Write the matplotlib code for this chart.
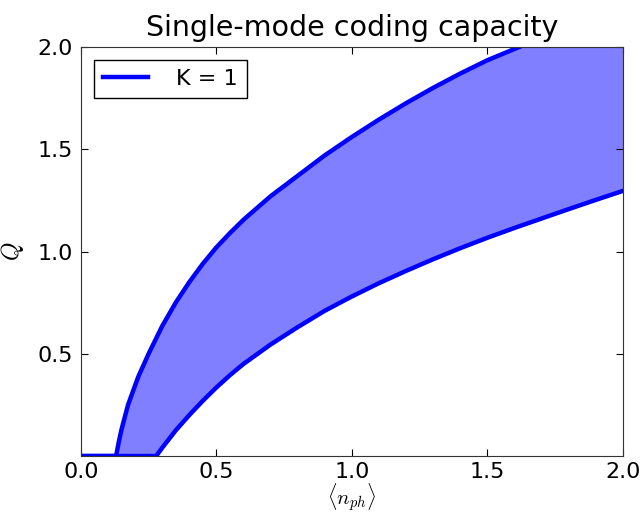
import numpy as np
import matplotlib
matplotlib.use("Agg")
import matplotlib.pyplot as plt

# values (upper and lower edge of the band)
n_upper = [0.0, 0.13, 0.14, 0.15, 0.174, 0.211, 0.25, 0.30, 0.35, 0.40, 0.45,
           0.50, 0.55, 0.60, 0.70, 0.80, 0.90, 1.0, 1.1, 1.2, 1.3, 1.4, 1.5,
           1.6, 1.7, 2.0]
q_upper = [0.0, 0.0, 0.07, 0.13, 0.25, 0.385, 0.50, 0.635, 0.75, 0.85, 0.94,
           1.02, 1.09, 1.155, 1.27, 1.37, 1.47, 1.56, 1.645, 1.725, 1.80, 1.87,
           1.935, 1.99, 2.045, 2.20]

n_lower = [0.0, 0.278, 0.30, 0.35, 0.40, 0.45, 0.50, 0.55, 0.60, 0.70, 0.80,
           0.90, 1.0, 1.1, 1.2, 1.3, 1.4, 1.5, 1.6, 1.7, 1.8, 1.9, 2.0]
q_lower = [0.0, 0.0, 0.04, 0.125, 0.20, 0.27, 0.335, 0.395, 0.45, 0.545, 0.63,
           0.71, 0.78, 0.845, 0.905, 0.962, 1.016, 1.067, 1.115, 1.161, 1.207,
           1.252, 1.296]

xticks = [0.0, 0.5, 1.0, 1.5, 2.0]
yticks = [0.5, 1.0, 1.5, 2.0]

plt.rcParams['mathtext.fontset'] = 'cm'
plt.rcParams['font.family'] = 'DejaVu Sans'

fig = plt.figure(figsize=(6.42, 5.14), dpi=100)
ax = fig.add_axes([0.126, 0.1128, 0.844, 0.7958])

# common grid so the band can be filled between both edges
grid = np.union1d(n_upper, n_lower)
up = np.interp(grid, n_upper, q_upper)
lo = np.interp(grid, n_lower, q_lower)
ax.fill_between(grid, lo, up, color='#0000ff', alpha=0.5, linewidth=0)

ax.plot(n_upper, q_upper, color='#0000ff', lw=3.2, label='K = 1',
        solid_joinstyle='round')
ax.plot(n_lower, q_lower, color='#0000ff', lw=3.2, solid_joinstyle='round')

ax.set_xlim(0, 2)
ax.set_ylim(0, 2)
ax.set_xticks(xticks)
ax.set_yticks(yticks)
ax.set_xticklabels(['%.1f' % v for v in xticks])
ax.set_yticklabels(['%.1f' % v for v in yticks])
ax.tick_params(direction='in', top=True, right=True, labelsize=16, length=5, pad=6)
ax.tick_params(axis='x', pad=4)
for s in ax.spines.values():
    s.set_color('#333333')

ax.set_title('Single-mode coding capacity', fontsize=20.5, pad=8)
ax.set_xlabel(r'$\langle n_{ph}\rangle$', fontsize=15, labelpad=0)
ax.set_ylabel(r'$Q$', fontsize=17, labelpad=8)

leg = ax.legend(loc='upper left', fontsize=16, fancybox=False, framealpha=1,
                handlelength=2.0, borderpad=0.4, handletextpad=1.3,
                borderaxespad=0.6)
leg.get_frame().set_edgecolor('black')

fig.savefig('out.png', dpi=100, facecolor='white')
